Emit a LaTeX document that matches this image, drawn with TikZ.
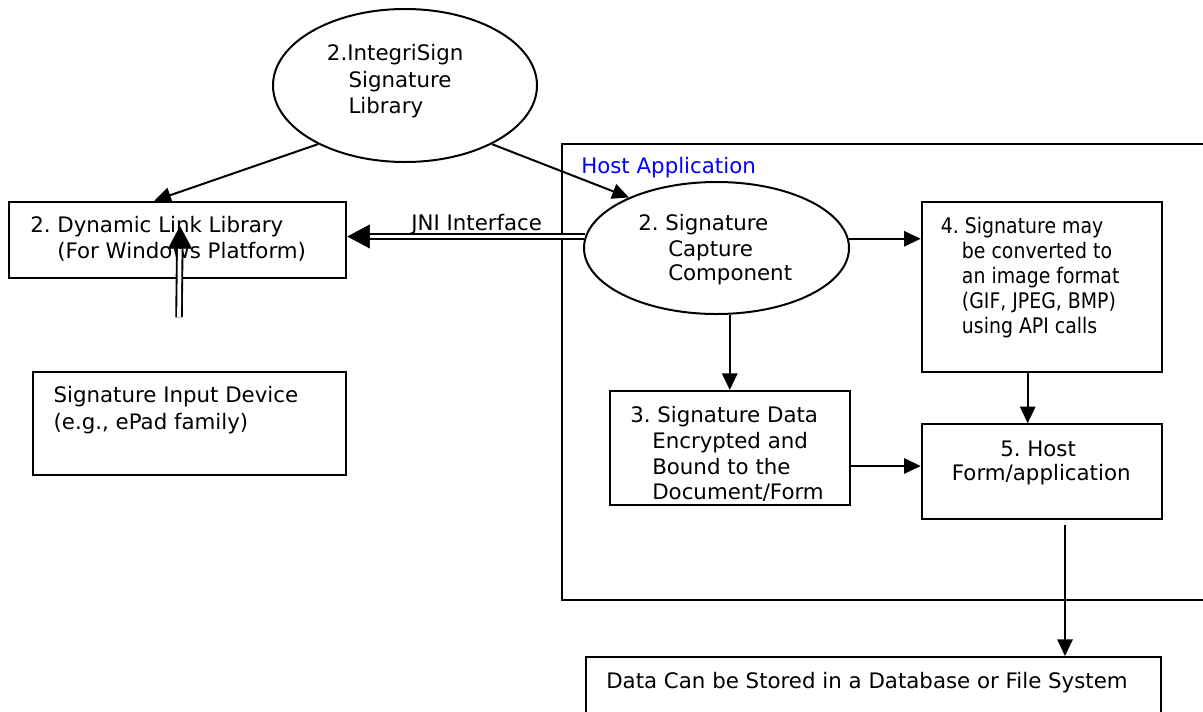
\documentclass[tikz,border=0pt]{standalone}
\usepackage{fontspec}
\setmainfont{DejaVu Sans}
\newfontfamily\narrowf[FakeStretch=0.88]{DejaVu Sans}
\usetikzlibrary{shapes.geometric,arrows.meta,calc}
\definecolor{hostblue}{RGB}{0,0,255}
\frenchspacing
\begin{document}
\begin{tikzpicture}[x=0.75pt,y=-0.75pt,
  box/.style={draw, line width=1.5pt, rectangle, inner sep=0pt, anchor=north west},
  oval/.style={draw, line width=1.5pt, ellipse, inner sep=0pt},
  txt/.style={anchor=base west, inner sep=0pt, font=\fontsize{16pt}{19pt}\selectfont},
  ntxt/.style={anchor=base west, inner sep=0pt, font=\fontsize{16.1pt}{19pt}\narrowf},
  arr/.style={line width=1.5pt, -{Triangle[length=12.5pt,width=11.5pt]}},
  dblline/.style={line width=1.4pt, double, double distance=2.8pt},
  dblhead/.style={line width=0.5pt, -{Triangle[length=17pt,width=18pt]}}
]
\useasboundingbox (0,0) rectangle (1203,711);

% shapes
\node[oval, minimum width=198pt, minimum height=114.75pt] (lib) at (405,85.5) {};
\node[box, minimum width=252.75pt, minimum height=57pt] (dll) at (8.3,200.7) {};
\node[box, minimum width=234.75pt, minimum height=77.25pt] (sid) at (32.3,371) {};
\node[box, minimum width=525pt, minimum height=342pt] (host) at (561,143) {};
\node[oval, fill=white, minimum width=198.75pt, minimum height=99pt] (sc) at (716.5,248) {};
\node[box, minimum width=180.2pt, minimum height=127.7pt] (b4) at (920.7,200.7) {};
\node[box, minimum width=180.4pt, minimum height=85.5pt] (b3) at (608.5,390) {};
\node[box, minimum width=180.2pt, minimum height=71.25pt] (b5) at (920.7,423.3) {};
\node[box, minimum width=431.6pt, minimum height=60pt] (data) at (584.6,656) {};

% texts
\node[txt] (l1) at (326.7,60) {2.IntegriSign};
\node[txt] (l2) at (348.3,87.3) {Signature};
\node[txt] (l3) at (348.3,113.3) {Library};
\node[txt] (d1) at (30,232.7) {2. Dynamic Link Library};
\node[txt] (d2) at (57,258.3) {(For Windows Platform)};
\node[txt] (jni) at (411,230) {JNI Interface};
\node[txt, text=hostblue] (ha) at (581,173) {Host Application};
\node[txt] (s1) at (638,230) {2. Signature};
\node[txt] (s2) at (668,256) {Capture};
\node[txt] (s3) at (668,280.7) {Component};
\node[ntxt] (f1) at (940.7,233.3) {4. Signature may};
\node[ntxt] (f2) at (961.7,258.3) {be converted to};
\node[ntxt] (f3) at (961.7,283.3) {an image format};
\node[ntxt] (f4) at (961.7,308.3) {(GIF, JPEG, BMP)};
\node[ntxt] (f5) at (961.7,333.5) {using API calls};
\node[txt] (e1) at (630,422) {3. Signature Data};
\node[txt] (e2) at (652,448) {Encrypted and};
\node[txt] (e3) at (652,474) {Bound to the};
\node[txt] (e4) at (652,499) {Document/Form};
\node[txt] (h1) at (1000,456.7) {5. Host};
\node[txt] (h2) at (951.7,480.7) {Form/application};
\node[txt] (i1) at (53.3,402.7) {Signature Input Device};
\node[txt] (i2) at (53.3,429.3) {(e.g., ePad family)};
\node[txt] (dt) at (606,688) {Data Can be Stored in a Database or File System};

% connectors
\draw[arr] (lib.214) -- ($(dll.north west)+(146,0)$);
\draw[arr] (lib.326) -- (sc.150);
\draw[dblline, shorten >=16pt] (sc.175.6) -- (dll.east |- sc.175.6);
\draw[dblhead] ($(dll.east |- sc.175.6)+(17,0)$) -- (dll.east |- sc.175.6);
\coordinate (inp) at (179,317.3);
\coordinate (dlltip) at ($(dll.center)+(2.2,-13.7)$);
\draw[dblline, shorten >=16pt] (inp) -- (dlltip);
\draw[dblhead] ($(dlltip)+(0,17)$) -- (dlltip);
\draw[arr] (sc.4) -- (b4.west |- sc.4);
\draw[arr] (b3.north |- sc.south) -- (b3.north);
\draw[arr] (b4.south -| 1027.7,0) -- (b5.north -| 1027.7,0);
\draw[arr] (b3.east |- 0,466) -- (b5.west |- 0,466);
\draw[arr] ($(b5.south -| 1065,0)+(0,5)$) -- (data.north -| 1065,0);
\end{tikzpicture}
\end{document}
